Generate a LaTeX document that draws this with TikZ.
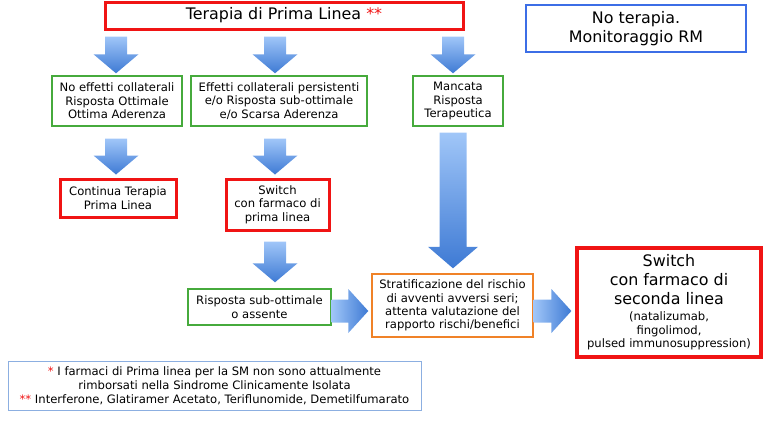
\documentclass[tikz,border=0pt]{standalone}
\usepackage{fontspec}
\setmainfont{DejaVu Sans}
\usetikzlibrary{calc}

\definecolor{boxred}{RGB}{240,20,20}
\definecolor{boxgreen}{RGB}{70,170,60}
\definecolor{boxblue}{RGB}{60,110,230}
\definecolor{boxorange}{RGB}{240,130,40}
\definecolor{noteblue}{RGB}{140,175,225}
\definecolor{arrowlight}{RGB}{160,198,248}
\definecolor{arrowdark}{RGB}{62,122,212}

\newcommand{\smallf}{\fontsize{11.6}{13.6}\selectfont}
\newcommand{\bigf}{\fontsize{15.9}{19.5}\selectfont}

\tikzset{
  small/.style={font=\smallf},
  big/.style={font=\bigf},
  redbox/.style={draw=boxred,line width=3pt,align=center,inner sep=0pt},
  greenbox/.style={draw=boxgreen,line width=1.4pt,align=center,inner sep=0pt,small},
}

% block arrows: [half shaft]{from}{to}{gap at start}{gap at end}
\newcommand{\vblk}[5][11]{%
\shade[top color=arrowlight,bottom color=arrowdark] let \p1=(#2), \p2=(#3) in
  (\x1-#1pt,\y1-#4) -- (\x1+#1pt,\y1-#4) -- (\x1+#1pt,\y2+#5+#1pt+8pt)
  -- (\x1+#1pt+11.5pt,\y2+#5+#1pt+8pt) -- (\x1,\y2+#5)
  -- (\x1-#1pt-11.5pt,\y2+#5+#1pt+8pt) -- (\x1-#1pt,\y2+#5+#1pt+8pt) -- cycle;}
\newcommand{\hblk}[5][11.5]{%
\shade[left color=arrowlight,right color=arrowdark] let \p1=(#2), \p2=(#3) in
  (\x1+#4,\y1+#1pt) -- (\x2-#5-20pt,\y1+#1pt) -- (\x2-#5-20pt,\y1+22pt)
  -- (\x2-#5,\y1) -- (\x2-#5-20pt,\y1-22pt) -- (\x2-#5-20pt,\y1-#1pt)
  -- (\x1+#4,\y1-#1pt) -- cycle;}

\begin{document}
\begin{tikzpicture}[x=1pt,y=-1pt]
\useasboundingbox (0,0) rectangle (767,437);

\node[redbox,big,minimum width=358,minimum height=27] (prima) at (284,15.5)
  {Terapia di Prima Linea \textcolor{boxred}{**}};
\node[draw=boxblue,line width=2.4pt,big,align=center,inner sep=0pt,
  minimum width=220,minimum height=47] (noter) at (636,28.5)
  {No terapia.\\Monitoraggio RM};

\node[greenbox,minimum width=130,minimum height=50] (noeff) at (117,101)
  {No effetti collaterali\\Risposta Ottimale\\Ottima Aderenza};
\node[greenbox,minimum width=176,minimum height=50] (effpers) at (279,101)
  {Effetti collaterali persistenti\\e/o Risposta sub-ottimale\\e/o Scarsa Aderenza};
\node[greenbox,minimum width=90,minimum height=50] (mancata) at (458,101)
  {Mancata\\Risposta\\Terapeutica};

\node[redbox,small,minimum width=116,minimum height=38] (continua) at (118,198)
  {Continua Terapia\\Prima Linea};
\node[redbox,small,minimum width=103,minimum height=51] (switch) at (277.5,204.5)
  {Switch\\con farmaco di\\prima linea};

\node[greenbox,minimum width=143,minimum height=36] (subott) at (259.5,307)
  {Risposta sub-ottimale\\o assente};
\node[draw=boxorange,line width=1.4pt,align=center,inner sep=0pt,
  font=\fontsize{11.6}{13.2}\selectfont,
  minimum width=161,minimum height=63] (strat) at (452.5,305.5)
  {Stratificazione del rischio\\di avventi avversi seri;\\attenta valutazione del\\rapporto rischi/benefici};
\node[redbox,line width=3.2pt,font=\fontsize{15.9}{19}\selectfont,
  minimum width=184,minimum height=109] (switchsec) at (669,302.5)
  {Switch\\con farmaco di\\seconda linea\\[-3pt]
   \smallf (natalizumab,\\[-5.5pt]\smallf fingolimod,\\[-5.5pt]\smallf pulsed immunosuppression)};

\node[draw=noteblue,line width=0.9pt,align=center,inner sep=0pt,
  font=\fontsize{11.6}{14}\selectfont,
  minimum width=413,minimum height=49] (nota) at (214.5,385.5)
  {\textcolor{boxred}{*} I farmaci di Prima linea per la SM non sono attualmente\\
   rimborsati nella Sindrome Clinicamente Isolata\\
   \textcolor{boxred}{**} Interferone, Glatiramer Acetato, Teriflunomide, Demetilfumarato};

\coordinate (col1) at (116,0);
\coordinate (col2) at (275,0);
\coordinate (col3) at (453,0);
\coordinate (row) at (0,311);

\vblk{col1 |- prima.south}{col1 |- noeff.north}{6pt}{2pt}
\vblk{col2 |- prima.south}{col2 |- effpers.north}{6pt}{2pt}
\vblk{col3 |- prima.south}{col3 |- mancata.north}{6pt}{2pt}
\vblk{col1 |- noeff.south}{col1 |- continua.north}{12pt}{3pt}
\vblk{col2 |- effpers.south}{col2 |- switch.north}{12pt}{3pt}
\vblk{col2 |- switch.south}{col2 |- subott.north}{10pt}{6pt}
\vblk[13.5]{col3 |- mancata.south}{col3 |- strat.north}{6pt}{5pt}

\hblk{subott.east |- row}{strat.west |- row}{0pt}{3pt}
\hblk{strat.east |- row}{switchsec.west |- row}{0pt}{4pt}
\end{tikzpicture}
\end{document}
